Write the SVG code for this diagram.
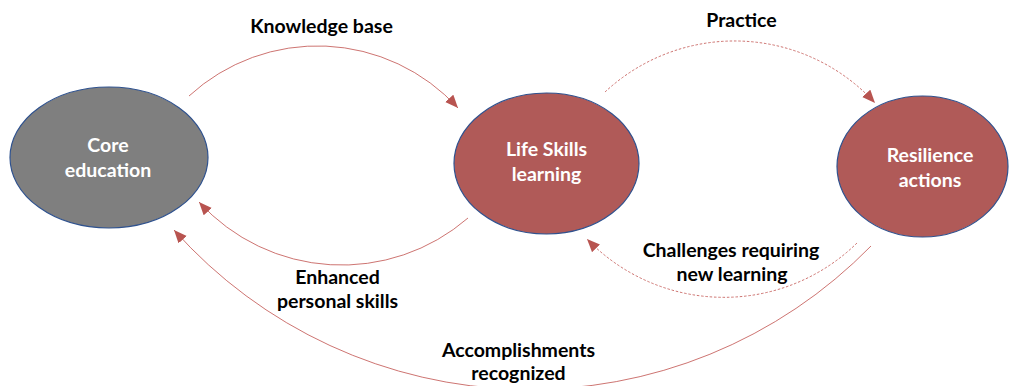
<svg xmlns="http://www.w3.org/2000/svg" width="1011" height="386" viewBox="0 0 1011 386">
<style>
.node{stroke:#2f528f;stroke-width:1.2}
.gray{fill:#7f7f7f}
.red{fill:#b05a58}
.nt{font-family:Lato,"Open Sans","Liberation Sans",sans-serif;font-weight:bold;font-size:19.5px;fill:#ffffff;text-anchor:middle}
.lt{font-family:Lato,"Open Sans","Liberation Sans",sans-serif;font-weight:bold;font-size:19.5px;fill:#000000;text-anchor:middle}
.c{fill:none;stroke:#c0504d;stroke-width:0.8;marker-end:url(#ah)}
.d{stroke-dasharray:2.5 1.8}
</style>
<defs>
<marker id="ah" markerUnits="userSpaceOnUse" markerWidth="14" markerHeight="12" refX="13" refY="5.5" orient="auto">
<path d="M0,0 L13,5.5 L0,11 z" fill="#b85450"/>
</marker>
</defs>
<g id="connectors">
<path class="c" d="M189,96 A190,190 0 0,1 458,108"/>
<path class="c d" d="M605,92 A190,190 0 0,1 875,103"/>
<path class="c" d="M468,218 A193,193 0 0,1 199,202"/>
<path class="c d" d="M857,243 A190,190 0 0,1 587,239"/>
<path class="c" d="M871,246 A477,477 0 0,1 174,230"/>
</g>
<g id="core-education">
<ellipse class="node gray" cx="109" cy="157.5" rx="99" ry="70.5"/>
<text class="nt" x="108" y="152">Core</text>
<text class="nt" x="108" y="177">education</text>
</g>
<g id="life-skills">
<ellipse class="node red" cx="546.5" cy="163.5" rx="92.5" ry="70.5"/>
<text class="nt" x="546.5" y="156">Life Skills</text>
<text class="nt" x="546.5" y="181">learning</text>
</g>
<g id="resilience">
<ellipse class="node red" cx="922.5" cy="166.5" rx="85.5" ry="70.5"/>
<text class="nt" x="930" y="162">Resilience</text>
<text class="nt" x="930" y="187">actions</text>
</g>
<g id="labels">
<text class="lt" x="321.5" y="33">Knowledge base</text>
<text class="lt" x="741.5" y="27">Practice</text>
<text class="lt" x="731" y="257">Challenges requiring</text>
<text class="lt" x="732" y="281">new learning</text>
<text class="lt" x="337.5" y="284">Enhanced</text>
<text class="lt" x="337.5" y="308">personal skills</text>
<text class="lt" x="518.5" y="357">Accomplishments</text>
<text class="lt" x="518.5" y="380">recognized</text>
</g>
</svg>
